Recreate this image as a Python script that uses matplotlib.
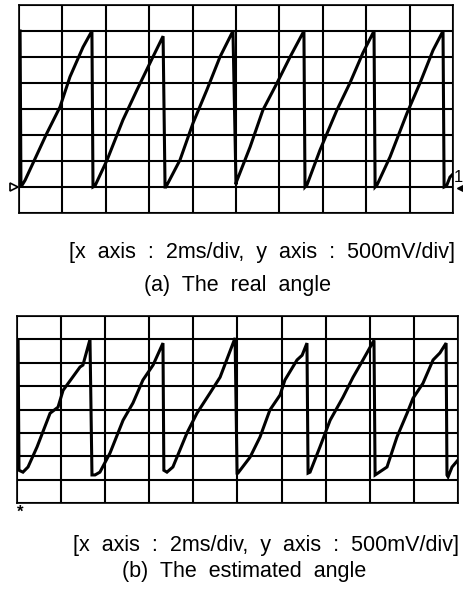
import numpy as np
import matplotlib.pyplot as plt
from matplotlib import transforms

# scope settings: 2 ms/div, 500 mV/div, 10 x 8 divisions
ms_per_div = 2.0
v_per_div = 0.5
n_xdiv = 10
n_ydiv = 8

# (a) real angle, trace vertices (ms, V)
t_real = [0.05, 0.09, 0.28, 1.29, 1.89, 2.35, 2.95, 3.36, 3.41,
          3.50, 4.06, 4.79, 5.44, 6.17, 6.64, 6.73,
          6.77, 7.42, 8.02, 8.66, 9.26, 9.86, 10.0,
          10.02, 10.65, 11.24, 11.89, 12.49, 13.13, 13.18,
          13.27, 13.87, 14.65, 15.25, 15.85, 16.36, 16.41,
          16.50, 17.10, 17.88, 18.48, 19.08, 19.54, 19.59,
          19.70, 19.86, 20.0]
v_real = [3.50, 0.50, 0.63, 1.54, 2.04, 2.62, 3.19, 3.50, 0.50,
          0.52, 1.02, 1.79, 2.37, 3.00, 3.40, 0.50,
          0.50, 1.02, 1.73, 2.37, 3.00, 3.50, 0.55,
          0.60, 1.27, 1.98, 2.50, 3.00, 3.50, 0.50,
          0.54, 1.21, 1.98, 2.50, 3.08, 3.50, 0.50,
          0.54, 1.08, 1.92, 2.50, 3.13, 3.50, 0.50,
          0.52, 0.69, 0.75]

# (b) estimated angle, trace vertices (ms, V)
t_est = [0.05, 0.09, 0.27, 0.50, 0.91, 1.50, 1.86, 2.09, 2.86, 2.99, 3.31, 3.40,
         3.54, 3.76, 4.22, 4.81, 5.26, 5.71, 6.17, 6.62, 6.66,
         6.80, 7.07, 7.71, 8.16, 8.75, 9.21, 9.80, 9.89, 9.98,
         10.02, 10.57, 11.02, 11.47, 11.93, 12.15, 12.70, 12.93, 13.15, 13.20,
         13.29, 13.74, 14.20, 14.78, 15.24, 15.69, 16.19, 16.24,
         16.37, 16.78, 17.23, 17.69, 17.96, 18.41, 18.87, 19.18, 19.46, 19.50,
         19.55, 19.73, 20.0]
v_est = [3.48, 0.70, 0.66, 0.77, 1.20, 1.92, 2.05, 2.41, 2.91, 2.95, 3.50, 0.60,
         0.60, 0.66, 1.07, 1.77, 2.14, 2.63, 2.95, 3.42, 0.70,
         0.66, 0.77, 1.50, 1.92, 2.35, 2.69, 3.42, 3.53, 0.64,
         0.64, 0.98, 1.41, 1.99, 2.31, 2.63, 3.06, 3.16, 3.42, 0.64,
         0.66, 1.20, 1.77, 2.26, 2.69, 3.06, 3.48, 0.60,
         0.64, 0.77, 1.41, 1.92, 2.24, 2.56, 3.06, 3.21, 3.42, 0.60,
         0.56, 0.77, 0.92]

unit_label = "[x  axis  :  2ms/div,  y  axis  :  500mV/div]"
captions = ["(a)  The  real  angle", "(b)  The  estimated  angle"]

W, H = 464, 594
fig = plt.figure(figsize=(W / 100, H / 100), dpi=100)
plt.rcParams['font.family'] = ['Liberation Sans', 'DejaVu Sans']


def scope(box, t, v):
    # box = (left, top, right, bottom) in pixels
    l, tp, r, b = box
    ax = fig.add_axes([l / W, 1 - b / H, (r - l) / W, (b - tp) / H])
    ax.set_xlim(0, n_xdiv * ms_per_div)
    ax.set_ylim(0, n_ydiv * v_per_div)
    ax.set_xticks(np.arange(0, n_xdiv + 1) * ms_per_div)
    ax.set_yticks(np.arange(0, n_ydiv + 1) * v_per_div)
    ax.grid(True, color='black', lw=1.5)
    ax.tick_params(length=0, labelbottom=False, labelleft=False)
    for s in ax.spines.values():
        s.set_linewidth(1.2)
    ax.plot(t, v, color='black', lw=2.2, solid_joinstyle='miter')
    return ax


ax1 = scope((19, 5, 453, 213), t_real, v_real)
ax2 = scope((17, 316, 458, 503), t_est, v_est)

# ground reference marker on the left and channel marker on the right
tr1 = transforms.blended_transform_factory(ax1.transAxes, ax1.transData)
ax1.plot([-0.012], [v_per_div], marker='>', ms=6, mfc='white', mec='black',
         mew=1.2, transform=tr1, clip_on=False)
ax1.text(1.002, 0.68, "1", transform=tr1, fontsize=12,
         ha='left', va='center', clip_on=False)
ax1.plot([1.016], [0.48], marker='<', ms=4, color='black', transform=tr1,
         clip_on=False)

# trigger marker under panel (b)
ax2.text(0.008, -0.01, "*", transform=ax2.transAxes, fontsize=12,
         fontweight='bold', ha='center', va='top')

fig.text(262 / W, 1 - 252 / H, unit_label, fontsize=15.5, ha='center', va='center')
fig.text(238 / W, 1 - 285 / H, captions[0], fontsize=15.5, ha='center', va='center')
fig.text(266 / W, 1 - 545 / H, unit_label, fontsize=15.5, ha='center', va='center')
fig.text(244 / W, 1 - 572 / H, captions[1], fontsize=15.5, ha='center', va='center')

fig.savefig('out.png', dpi=100)
